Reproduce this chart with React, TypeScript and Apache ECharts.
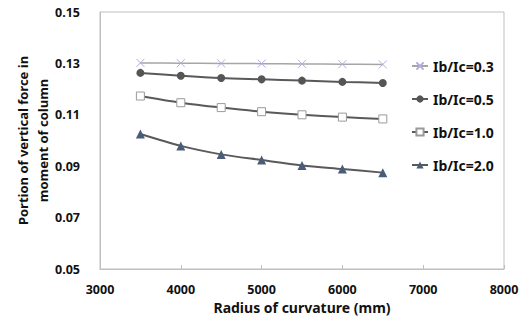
import React, { useEffect, useRef } from "react";
import * as echarts from "echarts";

const radius = [3500, 4000, 4500, 5000, 5500, 6000, 6500];
const s03 = [0.1302, 0.1301, 0.13, 0.1299, 0.1298, 0.1297, 0.1296];
const s05 = [0.1263, 0.1252, 0.1243, 0.1238, 0.1233, 0.1228, 0.1224];
const s10 = [0.1173, 0.1147, 0.1128, 0.1112, 0.11, 0.1091, 0.1084];
const s20 = [0.1025, 0.0979, 0.0946, 0.0924, 0.0903, 0.0889, 0.0875];
const seriesNames = ["Ib/Ic=0.3", "Ib/Ic=0.5", "Ib/Ic=1.0", "Ib/Ic=2.0"];

const FONT = "'Noto Sans', 'Open Sans', sans-serif";

export default function App() {
  const ref = useRef<HTMLDivElement>(null);
  useEffect(() => {
    if (!ref.current) return;
    const chart = echarts.init(ref.current, null, { renderer: "svg" });
    const pair = (ys: number[]) => radius.map((x, i) => [x, ys[i]]);
    chart.setOption({
      animation: false,
      backgroundColor: "#fff",
      textStyle: { fontFamily: FONT },
      grid: {
        left: 100,
        right: 21,
        top: 12,
        bottom: 53,
        show: true,
        borderColor: "#bfbfbf",
        borderWidth: 1,
      },
      legend: {
        orient: "vertical",
        left: 406,
        top: 54,
        itemGap: 19,
        itemWidth: 16,
        itemHeight: 9,
        data: seriesNames,
        textStyle: { fontFamily: FONT, fontWeight: "bold", fontSize: 14, color: "#111" },
      },
      xAxis: {
        type: "value",
        min: 3000,
        max: 8000,
        interval: 1000,
        name: "Radius of curvature (mm)",
        nameLocation: "middle",
        nameGap: 31,
        nameMoveOverlap: false,
        nameTextStyle: { fontFamily: FONT, fontWeight: "bold", fontSize: 14, color: "#111" },
        axisLine: { show: true, lineStyle: { color: "#bfbfbf" } },
        axisTick: { show: true, inside: true, length: 4, lineStyle: { color: "#bfbfbf" } },
        axisLabel: {
          margin: 14,
          fontFamily: FONT,
          fontWeight: "bold",
          fontSize: 12.5,
          color: "#111",
          formatter: (v: number) => String(v),
        },
        splitLine: { show: false },
      },
      yAxis: {
        type: "value",
        min: 0.05,
        max: 0.15,
        interval: 0.02,
        name: "Portion of vertical force in\nmoment of column",
        nameLocation: "middle",
        nameGap: 47,
        nameMoveOverlap: false,
        nameTextStyle: {
          fontFamily: FONT,
          fontWeight: "bold",
          fontSize: 13,
          color: "#111",
          lineHeight: 20,
          align: "center",
        },
        axisLine: { show: true, lineStyle: { color: "#bfbfbf" } },
        axisTick: { show: false },
        axisLabel: {
          margin: 20,
          fontFamily: FONT,
          fontWeight: "bold",
          fontSize: 12.5,
          color: "#111",
          formatter: (v: number) => v.toFixed(2),
        },
        splitLine: { show: false },
      },
      series: [
        {
          name: seriesNames[0],
          type: "line",
          data: pair(s03),
          smooth: 0.3,
          symbol: "path://M0,0 L10,10 M10,0 L0,10",
          symbolSize: 8,
          lineStyle: { color: "#a6a6a6", width: 1.5 },
          itemStyle: { color: "#b7a9d9", borderColor: "#b7a9d9", borderWidth: 1 },
        },
        {
          name: seriesNames[1],
          type: "line",
          data: pair(s05),
          smooth: 0.3,
          symbol: "circle",
          symbolSize: 8,
          lineStyle: { color: "#595959", width: 2 },
          itemStyle: { color: "#555555", borderColor: "#555555", borderWidth: 0 },
        },
        {
          name: seriesNames[2],
          type: "line",
          data: pair(s10),
          smooth: 0.3,
          symbol: "rect",
          symbolSize: 8,
          lineStyle: { color: "#595959", width: 2 },
          itemStyle: { color: "#ffffff", borderColor: "#9a9a9a", borderWidth: 1 },
        },
        {
          name: seriesNames[3],
          type: "line",
          data: pair(s20),
          smooth: 0.3,
          symbol: "triangle",
          symbolSize: 9,
          lineStyle: { color: "#595959", width: 2 },
          itemStyle: { color: "#4a5d78", borderColor: "#4a5d78", borderWidth: 0 },
        },
      ],
    });
    return () => chart.dispose();
  }, []);
  return (
    <div
      ref={ref}
      style={{ position: "fixed", left: 0, top: 0, width: 525, height: 322 }}
    />
  );
}
